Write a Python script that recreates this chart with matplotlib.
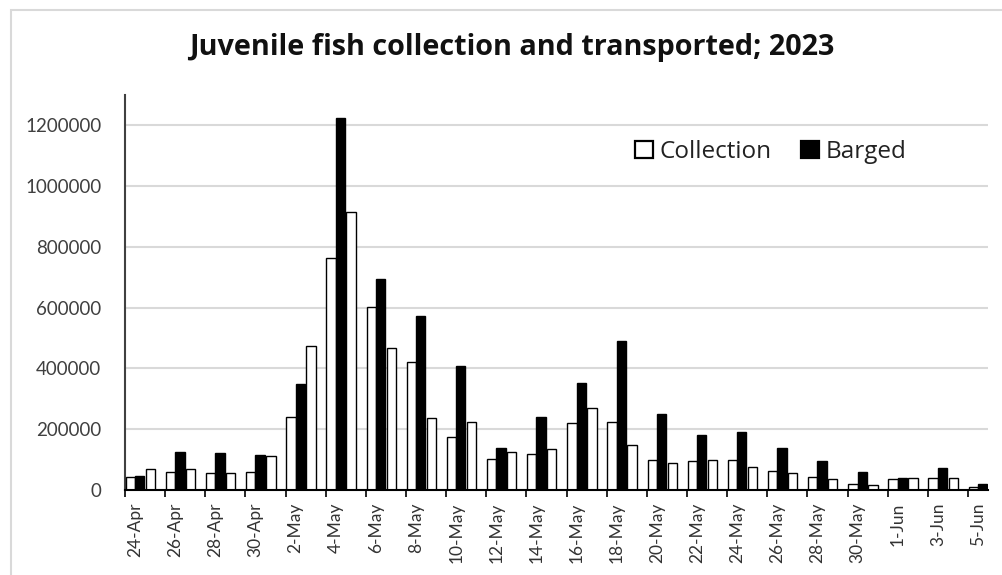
import matplotlib
matplotlib.use("Agg")
import matplotlib.pyplot as plt
import numpy as np
from matplotlib.patches import Patch, Rectangle

dates = ["24-Apr", "25-Apr", "26-Apr", "27-Apr", "28-Apr", "29-Apr", "30-Apr",
         "1-May", "2-May", "3-May", "4-May", "5-May", "6-May", "7-May", "8-May",
         "9-May", "10-May", "11-May", "12-May", "13-May", "14-May", "15-May",
         "16-May", "17-May", "18-May", "19-May", "20-May", "21-May", "22-May",
         "23-May", "24-May", "25-May", "26-May", "27-May", "28-May", "29-May",
         "30-May", "31-May", "1-Jun", "2-Jun", "3-Jun", "4-Jun", "5-Jun"]

collection = [44000, 68000, 60000, 68000, 55000, 55000, 60000,
              112000, 239000, 474000, 762000, 916000, 603000, 468000, 422000,
              236000, 175000, 225000, 101000, 126000, 117000, 135000,
              219000, 269000, 225000, 148000, 99000, 88000, 95000,
              99000, 99000, 77000, 64000, 55000, 42000, 35000,
              20000, 16000, 35000, 40000, 38000, 38000, 11000]

barged = [45000, 0, 124000, 0, 121000, 0, 115000,
          0, 349000, 0, 1223000, 0, 696000, 0, 573000,
          0, 409000, 0, 139000, 0, 239000, 0,
          353000, 0, 491000, 0, 249000, 0, 181000,
          0, 192000, 0, 137000, 0, 95000, 0,
          60000, 0, 40000, 0, 71000, 0, 20000]

title = "Juvenile fish collection and transported; 2023"
yticks = [0, 200000, 400000, 600000, 800000, 1000000, 1200000]

plt.rcParams['font.family'] = ['Lato', 'DejaVu Sans']

fig = plt.figure(figsize=(10.03, 5.75), dpi=100)
ax = fig.add_axes([125/1003, 1-490/575, (988-125)/1003, (490-95)/575])

x = np.arange(len(dates))
w = 0.465
ax.bar(x - w/2, collection, width=w, color='white', edgecolor='black', linewidth=1.0, zorder=3, label='Collection')
ax.bar(x + w/2, barged, width=w, color='black', edgecolor='black', linewidth=1.0, zorder=3, label='Barged')

ax.set_xlim(-0.5, len(dates) - 0.5)
ax.set_ylim(0, 1300000)
ax.set_yticks(yticks)
ax.set_yticklabels([str(v) for v in yticks], fontsize=13.5, color='#404040')
ax.tick_params(axis='y', length=0, pad=17)

ax.set_xticks(x[::2])
ax.set_xticklabels(dates[::2], rotation=90, fontsize=12.5, color='#333333')
ax.set_xticks(np.arange(-0.5, len(dates), 2), minor=True)
ax.tick_params(axis='x', which='major', length=0, pad=9)
ax.tick_params(axis='x', which='minor', length=5, width=1.2, color='black', direction='out')

ax.grid(axis='y', color='#d9d9d9', linewidth=1.5, zorder=0)
ax.set_axisbelow(True)
for s in ['top', 'right']:
    ax.spines[s].set_visible(False)
ax.spines['left'].set_color('#404040')
ax.spines['left'].set_linewidth(1.5)
ax.spines['bottom'].set_color('black')
ax.spines['bottom'].set_linewidth(1.5)
ax.spines['bottom'].set_zorder(4)

fig.text(512/1003, 1-47/575, title, ha='center', va='center', fontsize=20.7,
         fontweight='bold', color='#111111', family=['Open Sans', 'DejaVu Sans'])

handles = [Patch(facecolor='white', edgecolor='black', linewidth=1.6),
           Patch(facecolor='black', edgecolor='black', linewidth=1.6)]
leg = fig.legend(handles, ['Collection', 'Barged'], loc='center', bbox_to_anchor=(771/1003, 1-152/575),
                 ncol=2, frameon=False, prop={'family': ['Open Sans', 'DejaVu Sans'], 'size': 17.5},
                 handlelength=0.72, handleheight=0.72, handletextpad=0.3, columnspacing=1.2)
for t in leg.get_texts():
    t.set_color('#222222')

fig.patches.append(Rectangle((11/1003, -0.1), 1.2, 1 + 0.1 - 10/575, transform=fig.transFigure,
                             fill=False, edgecolor='#d9d9d9', linewidth=1.5))

fig.savefig('out.png', dpi=100)
